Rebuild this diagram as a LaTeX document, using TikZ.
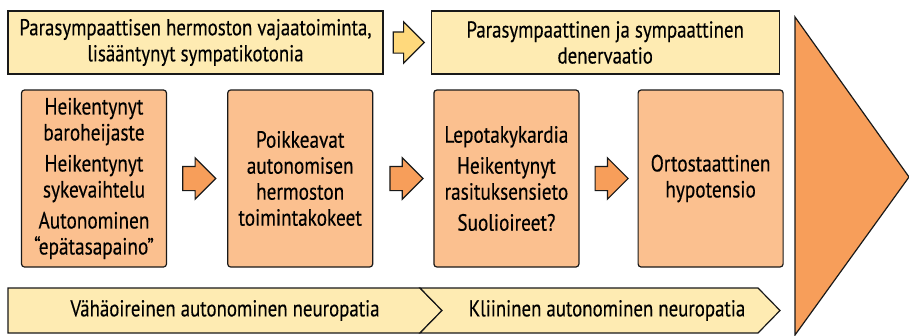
\documentclass[tikz,border=0pt]{standalone}
\usepackage{fontspec}
\setmainfont{PT Sans}[FakeStretch=0.82,FakeBold=0.3]
\usetikzlibrary{positioning,shapes.arrows}

\definecolor{paleyellow}{HTML}{FEEBB2}
\definecolor{arrowyellow}{HTML}{FFD97C}
\definecolor{paleorange}{HTML}{FBC08F}
\definecolor{darkorange}{HTML}{F79E5A}

\begin{document}
\begin{tikzpicture}[x=1pt,y=-1pt,line width=1.2pt,draw=black!90,
  topbox/.style={draw,fill=paleyellow,minimum height=63pt,inner sep=0pt,align=center,
    font=\fontsize{23}{26}\selectfont},
  midbox/.style={draw,fill=paleorange,rounded corners=3pt,minimum width=145pt,minimum height=177pt,
    inner sep=0pt,align=center,font=\fontsize{23.5}{26}\selectfont},
  blockarrow/.style={draw,single arrow,inner xsep=0pt,inner ysep=11.5pt,minimum height=33pt,
    single arrow head extend=8.5pt,fill=darkorange},
  stagetext/.style={font=\fontsize{23}{26}\selectfont,inner sep=0pt}]
%\tikzstyle{every node}=[draw=red]

  \useasboundingbox (0,0) rectangle (909,335);

  % top row
  \node[topbox,minimum width=375pt] (t1) at (195.5,42.5)
    {Parasympaattisen hermoston vajaatoiminta,\\lisääntynyt sympatikotonia};
  \node[topbox,minimum width=348pt] (t2) [right=47pt of t1]
    {Parasympaattinen ja sympaattinen\\denervaatio};
  \node[blockarrow,fill=arrowyellow,minimum height=31pt,inner ysep=10pt,single arrow head extend=10pt]
    (ya) [right=9pt of t1] {};

  % middle row
  \node[midbox] (b1) at (94,178.5)
    {Heikentynyt\\baroheijaste\\[5pt]Heikentynyt\\sykevaihtelu\\[5pt]Autonominen\\“epätasapaino”};
  \node[midbox] (b2) [right=60pt of b1]
    {Poikkeavat\\autonomisen\\hermoston\\toimintakokeet};
  \node[midbox] (b3) [right=60pt of b2]
    {Lepotakykardia\\[5pt]Heikentynyt\\rasituksensieto\\[5pt]Suolioireet?};
  \node[midbox] (b4) [right=58pt of b3]
    {Ortostaattinen\\hypotensio};

  \node[blockarrow] (a1) [right=15pt of b1] {};
  \node[blockarrow] (a2) [right=16pt of b2] {};
  \node[blockarrow] (a3) [right=15pt of b3] {};

  % stages
  \draw[fill=paleyellow] (8,288) -- (420,288) -- (442,310.5) -- (420,333) -- (8,333) -- cycle;
  \draw[fill=paleyellow] (420,288) -- (758,288) -- (780,310.5) -- (758,333) -- (420,333)
    -- (442,310.5) -- cycle;
  \node[stagetext] (s1) at (225,310.5) {Vähäoireinen autonominen neuropatia};
  \node[stagetext] (s2) at (607,310.5) {Kliininen autonominen neuropatia};

  % progression
  \draw[fill=darkorange] (795,17) -- (909,177) -- (795,335) -- cycle;
\end{tikzpicture}
\end{document}
